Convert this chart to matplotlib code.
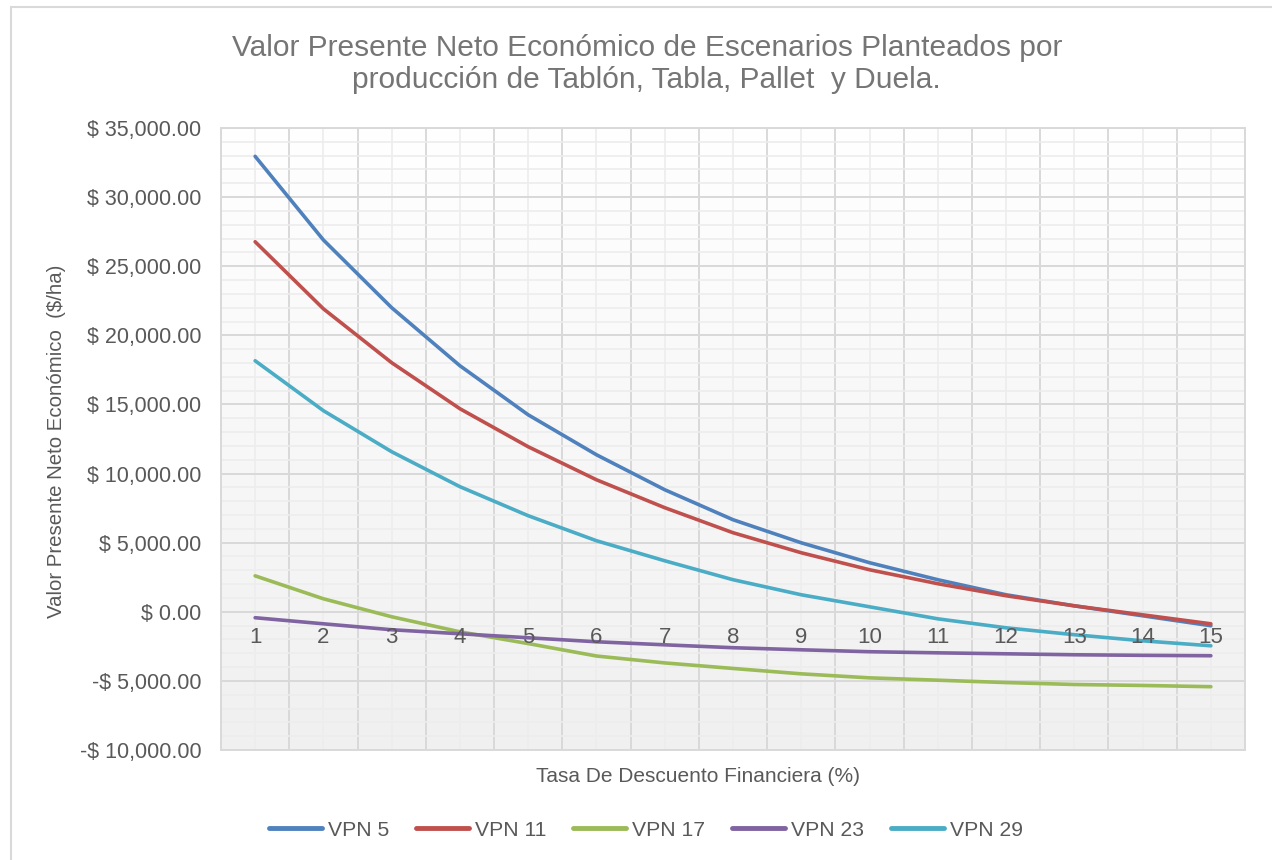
import numpy as np
import matplotlib
matplotlib.use("Agg")
import matplotlib.pyplot as plt
from matplotlib.ticker import FuncFormatter, MultipleLocator, FixedLocator
from matplotlib.patches import Rectangle
from matplotlib.lines import Line2D

# ============================================================
# datos
# ============================================================
tasas = [1, 2, 3, 4, 5, 6, 7, 8, 9, 10, 11, 12, 13, 14, 15]

vpn_5 = [32950, 26900, 22000, 17800, 14250, 11360, 8830, 6660,
         4990, 3550, 2320, 1230, 430, -290, -1010]
vpn_11 = [26770, 21920, 18020, 14690, 11940, 9550, 7530, 5720,
          4270, 3040, 2030, 1160, 430, -220, -870]
vpn_17 = [2600, 940, -360, -1450, -2300, -3200, -3700, -4100,
          -4490, -4780, -4950, -5120, -5260, -5330, -5420]
vpn_23 = [-430, -870, -1300, -1590, -1880, -2170, -2390, -2600,
          -2750, -2890, -2970, -3040, -3110, -3150, -3180]
vpn_29 = [18160, 14550, 11580, 9050, 6950, 5140, 3690, 2320,
          1230, 360, -510, -1160, -1660, -2100, -2460]

series_names = ["VPN 5", "VPN 11", "VPN 17", "VPN 23", "VPN 29"]
series_vals = [vpn_5, vpn_11, vpn_17, vpn_23, vpn_29]
colores = ["#4F81BD", "#C0504D", "#9BBB59", "#8064A2", "#4BACC6"]

titulo = ("Valor Presente Neto Económico de Escenarios Planteados por\n"
          "producción de Tablón, Tabla, Pallet  y Duela.")

# ============================================================
# figura
# ============================================================
plt.rcParams["font.family"] = ["Liberation Sans", "DejaVu Sans"]

fig = plt.figure(figsize=(12.72, 8.6), dpi=100)

# marco exterior del grafico
fig.add_artist(Rectangle((11 / 1272, -0.05), 1.2, 1 - 7 / 860 + 0.05,
                         transform=fig.transFigure, fill=False,
                         edgecolor="#d9d9d9", linewidth=1.5))

ax = fig.add_axes([221 / 1272, 1 - 750 / 860, 1024 / 1272, 622 / 860])

ymin, ymax = -10000, 35000
ax.set_xlim(0.5, 15.5)
ax.set_ylim(ymin, ymax)

# fondo con degradado
grad = np.linspace(0, 1, 256).reshape(-1, 1)
ax.imshow(grad, extent=[0, 1, 0, 1], transform=ax.transAxes,
          cmap=matplotlib.colors.LinearSegmentedColormap.from_list(
              "g", ["#f0f0f0", "#ffffff"]),
          origin="lower", aspect="auto", zorder=0)

# rejilla
ax.yaxis.set_major_locator(MultipleLocator(5000))
ax.yaxis.set_minor_locator(MultipleLocator(1000))
ax.xaxis.set_major_locator(FixedLocator(np.arange(0.5, 16, 1)))
ax.xaxis.set_minor_locator(FixedLocator(tasas))
ax.grid(which="major", color="#d9d9d9", linewidth=1.4, zorder=1)
ax.grid(which="minor", color="#ededed", linewidth=1.2, zorder=1)
ax.set_axisbelow(True)

for s in ax.spines.values():
    s.set_color("#d9d9d9")
    s.set_linewidth(1.4)

ax.tick_params(axis="x", which="both", length=0, labelbottom=False)
ax.tick_params(axis="y", which="both", length=0, labelsize=15.5,
               labelcolor="#595959", pad=14)


def fmt_dinero(v, pos):
    if v < 0:
        return f"-$ {abs(v):,.2f}"
    return f"$ {v:,.2f}"


ax.yaxis.set_major_formatter(FuncFormatter(fmt_dinero))

# lineas
for nombre, vals, c in zip(series_names, series_vals, colores):
    ax.plot(tasas, vals, color=c, linewidth=2.6, label=nombre,
            solid_capstyle="round", zorder=3)

# etiquetas de categoria junto al eje en cero
zero_frac = (0 - ymin) / (ymax - ymin)
secax = ax.secondary_xaxis(zero_frac)
secax.set_zorder(5)
secax.set_xticks(tasas)
secax.set_xticklabels([str(t) for t in tasas])
secax.tick_params(length=0, labelsize=16, labelcolor="#595959", pad=11)
secax.spines["bottom"].set_visible(False)

# textos
fig.text(0.5085, 1 - 64 / 860, titulo, ha="center", va="center",
         fontsize=21.5, color="#757575", linespacing=1.22)

fig.text(698 / 1272, 1 - 776 / 860, "Tasa De Descuento Financiera (%)",
         ha="center", va="center", fontsize=15, color="#595959")
fig.text(57 / 1272, 1 - 441 / 860, "Valor Presente Neto Económico  ($/ha)",
         rotation=90, ha="center", va="center", fontsize=14.7,
         color="#595959")

# leyenda
handles = [Line2D([0], [0], color=c, linewidth=3.5, solid_capstyle="round")
           for c in colores]
fig.legend(handles, series_names, loc="center",
           bbox_to_anchor=(646 / 1272, 1 - 830 / 860), ncol=5,
           frameon=False, fontsize=15.2, labelcolor="#595959",
           handlelength=2.5, handletextpad=0.28, columnspacing=1.28)

fig.savefig("out.png", dpi=100)
